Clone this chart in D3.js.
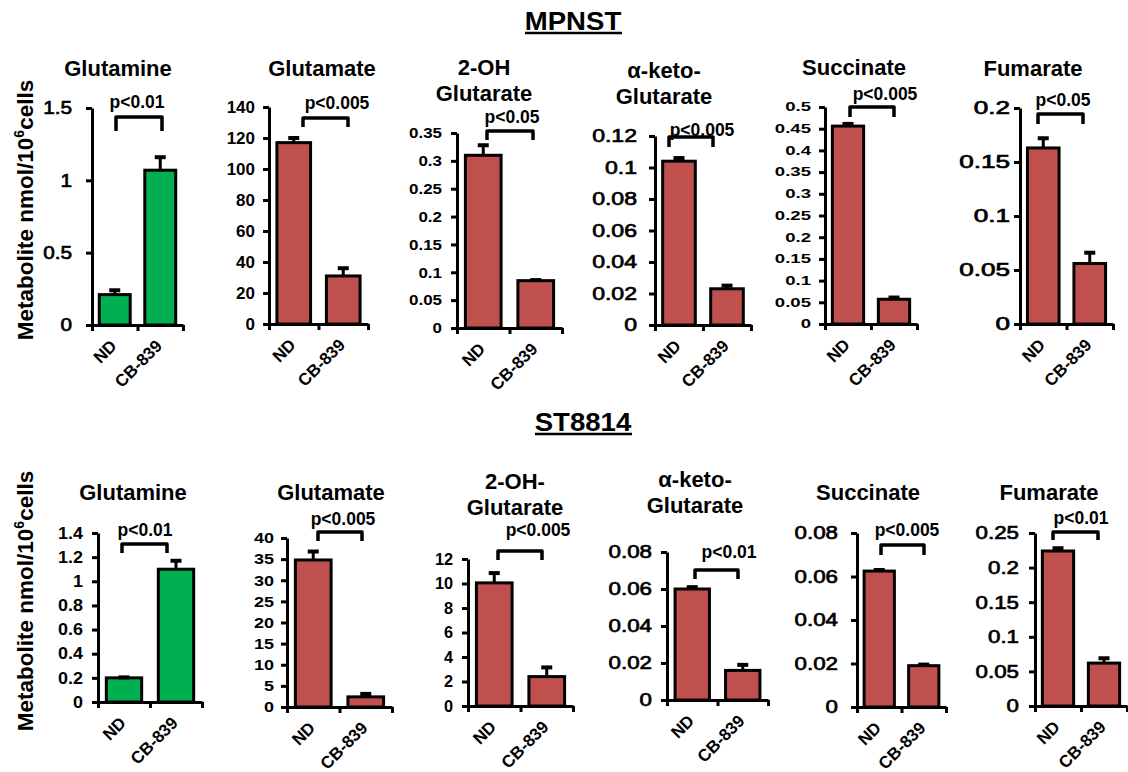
<!DOCTYPE html>
<html>
<head>
<meta charset="utf-8">
<script src="https://cdn.jsdelivr.net/npm/d3@7"></script>
<style>
  body { margin: 0; background: #fff; }
  svg { display: block; }
  text { font-family: "Liberation Sans", Arial, sans-serif; font-weight: bold; fill: #000; }
</style>
</head>
<body>
<div id="chart"></div>
<script>
// ---- data ----
var groups = ["ND", "CB-839"];

var mpnstTitles = [["Glutamine"], ["Glutamate"], ["2-OH", "Glutarate"], ["α-keto-", "Glutarate"], ["Succinate"], ["Fumarate"]];
var mpnstMeans  = [[0.21, 1.07], [117, 31], [0.31, 0.085], [0.104, 0.023], [0.456, 0.057], [0.163, 0.056]];
var mpnstErrors = [[0.03, 0.09], [3, 5], [0.018, 0.001], [0.002, 0.002], [0.005, 0.004], [0.009, 0.01]];
var mpnstPvals  = ["p<0.01", "p<0.005", "p<0.05", "p<0.005", "p<0.005", "p<0.05"];
var mpnstTicks  = [
  [0, 0.5, 1, 1.5],
  [0, 20, 40, 60, 80, 100, 120, 140],
  [0, 0.05, 0.1, 0.15, 0.2, 0.25, 0.3, 0.35],
  [0, 0.02, 0.04, 0.06, 0.08, 0.1, 0.12],
  [0, 0.05, 0.1, 0.15, 0.2, 0.25, 0.3, 0.35, 0.4, 0.45, 0.5],
  [0, 0.05, 0.1, 0.15, 0.2]
];

var stTitles = [["Glutamine"], ["Glutamate"], ["2-OH-", "Glutarate"], ["α-keto-", "Glutarate"], ["Succinate"], ["Fumarate"]];
var stMeans  = [[0.2, 1.1], [34.8, 2.4], [10.05, 2.4], [0.06, 0.016], [0.0625, 0.019], [0.224, 0.062]];
var stErrors = [[0.004, 0.07], [2, 0.7], [0.8, 0.75], [0.001, 0.003], [0.0005, 0.0005], [0.004, 0.007]];
var stPvals  = ["p<0.01", "p<0.005", "p<0.005", "p<0.01", "p<0.005", "p<0.01"];
var stTicks  = [
  [0, 0.2, 0.4, 0.6, 0.8, 1, 1.2, 1.4],
  [0, 5, 10, 15, 20, 25, 30, 35, 40],
  [0, 2, 4, 6, 8, 10, 12],
  [0, 0.02, 0.04, 0.06, 0.08],
  [0, 0.02, 0.04, 0.06, 0.08],
  [0, 0.05, 0.1, 0.15, 0.2, 0.25]
];

var green = "#00b050", red = "#c0504d";

// ---- panel layout (pixel positions of each small chart) ----
// fs/sx/fw: tick label size, horizontal stretch, weight (the panels were pasted in at different scales)
var mpnstLayout = [
  {x0: 92,   x1: 183,  top: 108, zero: 325, fs: 18,   sx: 1.15, fw: "medium", pad: 14, title: [118, 68],  p: [137, 102],  br: [116, 162, 117, 131]},
  {x0: 269,  x1: 368,  top: 107, zero: 324, fs: 16.5, sx: 1.03, fw: "bold",   pad: 8,  title: [322, 68],  p: [337, 103],  br: [303, 348, 118, 127]},
  {x0: 457,  x1: 562,  top: 133, zero: 328, fs: 15,   sx: 1.13, fw: "bold",   pad: 9,  title: [484, 67],  p: [512, 117],  br: [487, 533, 131, 140]},
  {x0: 655,  x1: 751,  top: 136, zero: 325, fs: 18.6, sx: 1.24, fw: "medium", pad: 12, title: [664, 70],  p: [702, 130],  br: [669, 713, 137, 147]},
  {x0: 825,  x1: 917,  top: 107, zero: 324, fs: 12,   sx: 1.55, fw: "bold",   pad: 8,  title: [854, 67],  p: [885, 94],   br: [850, 894, 107, 117]},
  {x0: 1020, x1: 1113, top: 108, zero: 324, fs: 18,   sx: 1.45, fw: "medium", pad: 4,  title: [1033, 68], p: [1063, 100], br: [1038, 1083, 114, 124]}
];
var stLayout = [
  {x0: 98,   x1: 202,  top: 533, zero: 702, fs: 16.3, sx: 1.1,  fw: "bold",   pad: 9,  title: [133, 492],  p: [145, 530],  br: [122, 167, 544, 553]},
  {x0: 287,  x1: 392,  top: 538, zero: 707, fs: 15,   sx: 1.2,  fw: "bold",   pad: 7,  title: [331, 492],  p: [343, 519],  br: [318, 362, 532, 541]},
  {x0: 468,  x1: 573,  top: 559, zero: 706, fs: 16.3, sx: 1.0,  fw: "bold",   pad: 9,  title: [515, 481],  p: [538, 530],  br: [498, 542, 551, 560]},
  {x0: 667,  x1: 768,  top: 552, zero: 700, fs: 18.6, sx: 1.2,  fw: "medium", pad: 9,  title: [695, 479],  p: [729, 552],  br: [695, 738, 570, 579]},
  {x0: 857,  x1: 946,  top: 533, zero: 707, fs: 18.6, sx: 1.2,  fw: "medium", pad: 13, title: [868, 492],  p: [907, 530],  br: [881, 924, 545, 555]},
  {x0: 1035, x1: 1127, top: 533, zero: 706, fs: 18.6, sx: 1.2,  fw: "medium", pad: 10, title: [1049, 492], p: [1081, 518], br: [1053, 1098, 532, 540]}
];

var width = 1128, height = 772;
var svg = d3.select("#chart").append("svg").attr("width", width).attr("height", height);

// squeeze/stretch text horizontally like the pasted-in charts
function stretch(sel, sx) {
  sel.each(function() {
    var t = d3.select(this);
    var x = +t.attr("x") || 0;
    t.attr("x", x / sx).attr("transform", "scale(" + sx + ",1)");
  });
}

// regular face thickened a little with a stroke
function setWeight(sel, fw) {
  if (fw === "medium") {
    sel.style("font-weight", "normal").attr("stroke", "#000").attr("stroke-width", 0.7);
  } else {
    sel.style("font-weight", fw);
  }
}

function drawPanel(L, means, errs, ticks, titleLines, pval, color) {
  var y = d3.scaleLinear().domain([0, d3.max(ticks)]).range([L.zero, L.top]);
  var x = d3.scaleBand().domain(groups).range([L.x0, L.x1]).paddingInner(0.32).paddingOuter(0.16);
  var xb = d3.scaleLinear().domain([0, groups.length]).range([L.x0, L.x1]);
  var g = svg.append("g");

  // bars
  g.selectAll(".bar").data(groups).enter().append("rect")
    .attr("class", "bar")
    .attr("x", function(d) { return x(d); })
    .attr("width", x.bandwidth())
    .attr("y", function(d, i) { return y(means[i]); })
    .attr("height", function(d, i) { return L.zero - y(means[i]); })
    .attr("fill", color)
    .attr("stroke", "#000")
    .attr("stroke-width", 3);

  // error bars (upper half only)
  var eb = g.selectAll(".err").data(groups).enter().append("g").attr("class", "err");
  eb.append("line")
    .attr("x1", function(d) { return x(d) + x.bandwidth() / 2; })
    .attr("x2", function(d) { return x(d) + x.bandwidth() / 2; })
    .attr("y1", function(d, i) { return y(means[i]); })
    .attr("y2", function(d, i) { return y(means[i] + errs[i]); })
    .attr("stroke", "#000").attr("stroke-width", 3);
  eb.append("line")
    .attr("x1", function(d) { return x(d) + x.bandwidth() / 2 - 5.5; })
    .attr("x2", function(d) { return x(d) + x.bandwidth() / 2 + 5.5; })
    .attr("y1", function(d, i) { return y(means[i] + errs[i]); })
    .attr("y2", function(d, i) { return y(means[i] + errs[i]); })
    .attr("stroke", "#000").attr("stroke-width", 4);

  // y axis
  var ya = g.append("g")
    .attr("transform", "translate(" + L.x0 + ",0)")
    .call(d3.axisLeft(y).tickValues(ticks).tickFormat(function(d) { return String(d); })
      .tickSize(6).tickSizeOuter(0).tickPadding(L.pad));
  ya.selectAll("path, line").attr("stroke", "#000").attr("stroke-width", 3);
  ya.selectAll("text").attr("font-size", L.fs);
  setWeight(ya.selectAll("text"), L.fw);
  stretch(ya.selectAll("text"), L.sx);

  // x axis with ticks between categories
  var xa = g.append("g")
    .attr("transform", "translate(0," + L.zero + ")")
    .call(d3.axisBottom(xb).tickValues(d3.range(groups.length + 1)).tickFormat("")
      .tickSize(6).tickSizeOuter(0));
  xa.selectAll("path, line").attr("stroke", "#000").attr("stroke-width", 3);

  // rotated category labels
  g.selectAll(".cat").data(groups).enter().append("text")
    .attr("class", "cat")
    .attr("text-anchor", "end")
    .attr("font-size", 17)
    .attr("transform", function(d) {
      return "translate(" + (x(d) + x.bandwidth() / 2 + 3) + "," + (L.zero + 22) + ") rotate(-45)";
    })
    .text(function(d) { return d; });

  // title
  titleLines.forEach(function(line, i) {
    g.append("text")
      .attr("text-anchor", "middle")
      .attr("font-size", 22)
      .attr("dy", "0.35em")
      .attr("transform", "translate(" + L.title[0] + "," + (L.title[1] + i * 26) + ")")
      .text(line);
  });

  // significance bracket
  var b = L.br;
  g.append("path")
    .attr("d", "M" + b[0] + "," + b[3] + "V" + b[2] + "H" + b[1] + "V" + b[3])
    .attr("fill", "none").attr("stroke", "#000").attr("stroke-width", 3.5)
    .attr("stroke-linejoin", "round");
  g.append("text")
    .attr("text-anchor", "middle")
    .attr("font-size", 17.5)
    .attr("dy", "0.35em")
    .attr("x", L.p[0]).attr("y", L.p[1])
    .text(pval);
}

mpnstLayout.forEach(function(L, i) {
  drawPanel(L, mpnstMeans[i], mpnstErrors[i], mpnstTicks[i], mpnstTitles[i], mpnstPvals[i], i === 0 ? green : red);
});
stLayout.forEach(function(L, i) {
  drawPanel(L, stMeans[i], stErrors[i], stTicks[i], stTitles[i], stPvals[i], i === 0 ? green : red);
});

// section headings
function heading(label, cx, cy, x0, x1, uy) {
  svg.append("text")
    .attr("text-anchor", "middle")
    .attr("font-size", 26)
    .attr("dy", "0.35em")
    .attr("transform", "translate(" + cx + "," + cy + ") scale(1.06,1)")
    .text(label);
  svg.append("line")
    .attr("x1", x0).attr("x2", x1).attr("y1", uy).attr("y2", uy)
    .attr("stroke", "#000").attr("stroke-width", 2.5);
}
heading("MPNST", 573, 21, 525, 622, 33);
heading("ST8814", 583, 422, 535, 632, 434);

// y axis titles
function yTitle(cy) {
  var t = svg.append("text")
    .attr("text-anchor", "middle")
    .attr("font-size", 22.5)
    .attr("transform", "translate(33," + cy + ") rotate(-90)");
  t.append("tspan").text("Metabolite nmol/10");
  t.append("tspan").attr("font-size", 14).attr("dy", -9).text("6");
  t.append("tspan").attr("dy", 9).text("cells");
}
yTitle(210);
yTitle(601);
</script>
</body>
</html>
